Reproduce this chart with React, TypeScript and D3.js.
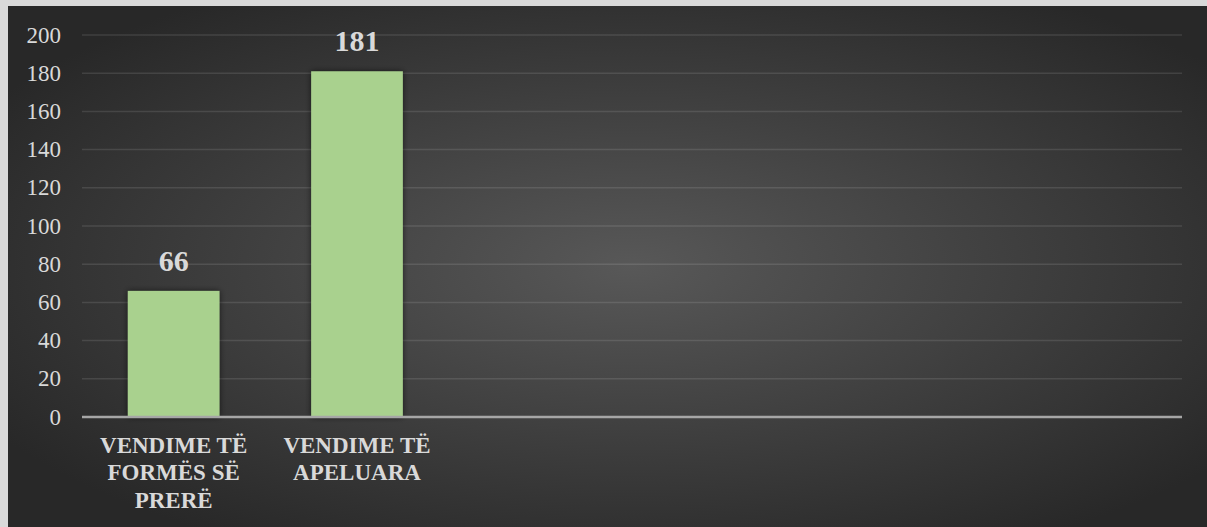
import React from "react";
import * as d3 from "d3";

const categories: string[][] = [
  ["VENDIME TË", "FORMËS SË", "PRERË"],
  ["VENDIME TË", "APELUARA"],
  [],
  [],
  [],
  [],
];
const values: (number | null)[] = [66, 181, null, null, null, null];
const yTicks: number[] = [0, 20, 40, 60, 80, 100, 120, 140, 160, 180, 200];

const W = 1207;
const H = 527;
const FONT = '"Times New Roman", "Liberation Serif", "DejaVu Serif", serif';

export default function App() {
  const x = d3
    .scaleBand<number>()
    .domain(categories.map((_, i) => i))
    .range([82, 1182])
    .paddingInner(0.5)
    .paddingOuter(0.25);
  const y = d3.scaleLinear().domain([0, 200]).range([417, 35]);

  const textStyle = { fontFamily: FONT } as React.CSSProperties;

  return (
    <svg
      width={W}
      height={H}
      style={{ position: "absolute", left: 0, top: 0, display: "block" }}
    >
      <defs>
        <radialGradient id="bg" cx="0.52" cy="0.5" r="0.62" gradientUnits="objectBoundingBox">
          <stop offset="0" stopColor="#585858" />
          <stop offset="1" stopColor="#282828" />
        </radialGradient>
        <filter id="sh" x="-20%" y="-20%" width="140%" height="140%">
          <feGaussianBlur in="SourceAlpha" stdDeviation="3" />
          <feComponentTransfer>
            <feFuncA type="linear" slope="0.6" />
          </feComponentTransfer>
          <feMerge>
            <feMergeNode />
            <feMergeNode in="SourceGraphic" />
          </feMerge>
        </filter>
      </defs>
      <rect x={0} y={0} width={W} height={H} fill="#d9d9d9" />
      <rect x={8} y={6} width={W - 8} height={H - 6} fill="url(#bg)" />

      {yTicks.map((t) => (
        <g key={t}>
          {t !== 0 && (
            <line
              x1={82}
              x2={1182}
              y1={y(t)}
              y2={y(t)}
              stroke="rgba(255,255,255,0.11)"
              strokeWidth={1.5}
            />
          )}
          <text
            x={61}
            y={y(t)}
            textAnchor="end"
            dominantBaseline="central"
            style={textStyle}
            fontSize={23}
            fill="#d9d9d9"
          >
            {t}
          </text>
        </g>
      ))}

      {values.map((v, i) =>
        v == null ? null : (
          <g key={i}>
            <rect
              x={x(i)!}
              y={y(v)}
              width={x.bandwidth()}
              height={y(0) - y(v)}
              fill="#a9d18e"
              filter="url(#sh)"
            />
            <text
              x={x(i)! + x.bandwidth() / 2}
              y={y(v) - 20}
              textAnchor="middle"
              style={textStyle}
              fontWeight="bold"
              fontSize={30}
              fill="#d9d9d9"
            >
              {v}
            </text>
          </g>
        )
      )}

      <line x1={82} x2={1182} y1={y(0)} y2={y(0)} stroke="#a6a6a6" strokeWidth={2.5} />

      {categories.map((lines, i) => (
        <text
          key={i}
          textAnchor="middle"
          style={textStyle}
          fontWeight="bold"
          fontSize={23}
          fill="#d9d9d9"
        >
          {lines.map((l, j) => (
            <tspan key={j} x={x(i)! + x.bandwidth() / 2} y={452.5 + j * 27.5}>
              {l}
            </tspan>
          ))}
        </text>
      ))}
    </svg>
  );
}
